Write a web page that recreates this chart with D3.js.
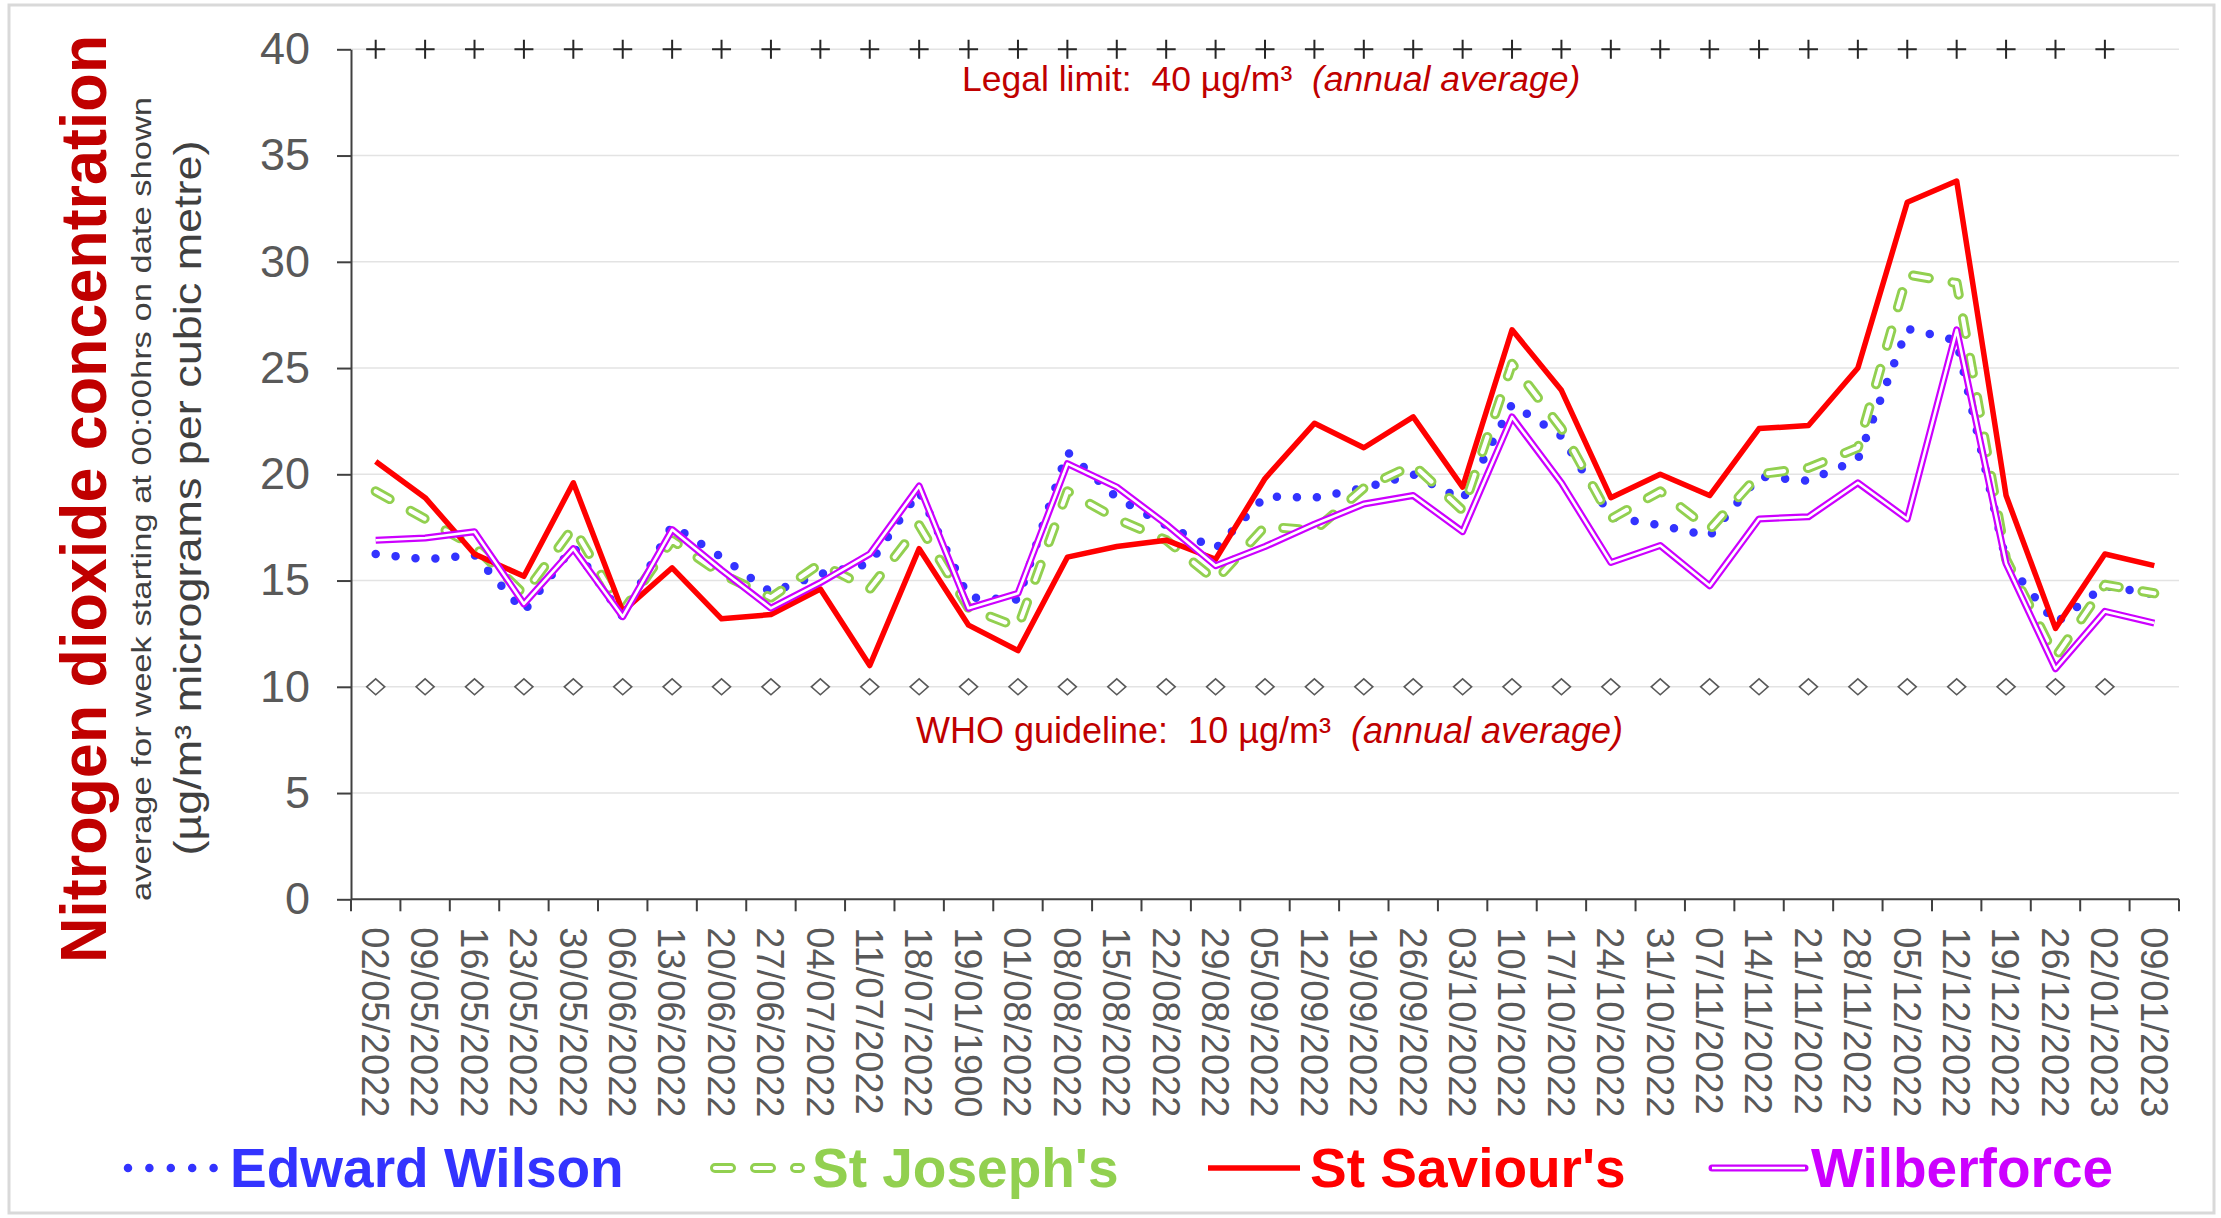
<!DOCTYPE html>
<html><head><meta charset="utf-8">
<script src="https://cdn.jsdelivr.net/npm/d3@7"></script>
<style>
body{margin:0;background:#fff;}
svg text{font-family: Arial, "Liberation Sans", sans-serif;}
</style>
</head><body>
<svg id="c" width="2221" height="1218"></svg>
<script>
// ---- DATA ----
const dates = ["02/05/2022","09/05/2022","16/05/2022","23/05/2022","30/05/2022","06/06/2022","13/06/2022","20/06/2022","27/06/2022","04/07/2022","11/07/2022","18/07/2022","19/01/1900","01/08/2022","08/08/2022","15/08/2022","22/08/2022","29/08/2022","05/09/2022","12/09/2022","19/09/2022","26/09/2022","03/10/2022","10/10/2022","17/10/2022","24/10/2022","31/10/2022","07/11/2022","14/11/2022","21/11/2022","28/11/2022","05/12/2022","12/12/2022","19/12/2022","26/12/2022","02/01/2023","09/01/2023"];

const edwardWilson = [16.25,16.0,16.2,13.55,16.6,13.3,17.6,16.1,14.45,15.3,15.8,19.2,14.2,14.1,21.05,18.9,17.6,16.5,18.95,18.9,19.35,20.0,18.8,23.3,21.8,18.0,17.6,17.1,19.9,19.7,20.7,26.85,26.3,15.9,13.0,14.75,14.35];
const stJosephs    = [19.2,17.9,16.6,14.35,17.5,13.55,16.9,15.3,14.2,15.8,14.6,17.6,13.7,12.8,19.2,17.9,16.9,15.0,17.55,17.35,19.35,20.45,18.3,25.2,22.15,17.9,19.2,17.4,20.0,20.3,21.25,29.4,29.0,16.0,11.4,14.8,14.4];
const stSaviours   = [20.6,18.9,16.25,15.2,19.6,13.55,15.6,13.2,13.4,14.6,11.0,16.5,12.9,11.7,16.1,16.6,16.9,16.0,19.8,22.4,21.25,22.7,19.4,26.8,23.95,18.9,20.0,19.0,22.15,22.3,25.0,32.8,33.8,19.0,12.75,16.25,15.7];
const wilberforce  = [16.9,17.0,17.3,13.9,16.5,13.3,17.4,15.5,13.7,14.9,16.25,19.45,13.7,14.4,20.5,19.4,17.65,15.7,16.6,17.65,18.6,19.0,17.3,22.7,19.6,15.85,16.65,14.75,17.9,18.0,19.6,17.9,26.8,15.8,10.85,13.55,13.0];

const seriesNames = ["Edward Wilson","St Joseph's","St Saviour's","Wilberforce"];
const yTicks = [0,5,10,15,20,25,30,35,40];
const legalLimit = 40;
const whoGuideline = 10;
const referenceDates = dates.slice(0, 36);   // reference markers run to 02/01/2023

// ---- CHART ----
const svg = d3.select("#c");
svg.append("rect").attr("x",9).attr("y",5).attr("width",2205).attr("height",1208)
  .attr("fill","#fff").attr("stroke","#d9d9d9").attr("stroke-width",3);

const x = d3.scaleBand().domain(dates).range([351,2179]).padding(0);
const y = d3.scaleLinear().domain([0,40]).range([899.3,49.3]);
const cx = d => x(d) + x.bandwidth()/2;

// gridlines
svg.append("g").selectAll("line").data(yTicks.filter(t=>t>0)).join("line")
  .attr("x1",x.range()[0]).attr("x2",x.range()[1])
  .attr("y1",d=>y(d)).attr("y2",d=>y(d))
  .attr("stroke","#e3e3e3").attr("stroke-width",1.5);

// y axis
const gy = svg.append("g").attr("transform",`translate(${x.range()[0]},0)`)
  .call(d3.axisLeft(y).tickValues(yTicks).tickSize(14).tickPadding(27).tickSizeOuter(0));
gy.select(".domain").attr("stroke","#404040").attr("stroke-width",2);
gy.selectAll(".tick line").attr("stroke","#404040").attr("stroke-width",2);
gy.selectAll(".tick text").attr("font-size",45).attr("fill","#595959")
  .attr("font-family","Arial, 'Liberation Sans', sans-serif");

// x axis line + boundary ticks
const xBounds = dates.map(d=>x(d)).concat([x.range()[1]]);
svg.append("line").attr("x1",x.range()[0]).attr("x2",x.range()[1])
  .attr("y1",y(0)).attr("y2",y(0)).attr("stroke","#404040").attr("stroke-width",2);
svg.append("g").selectAll("line").data(xBounds).join("line")
  .attr("x1",d=>d).attr("x2",d=>d).attr("y1",y(0)).attr("y2",y(0)+12)
  .attr("stroke","#404040").attr("stroke-width",2);
svg.append("g").selectAll("text").data(dates).join("text")
  .attr("transform",d=>`translate(${cx(d)},${y(0)+28}) rotate(90)`)
  .attr("dy","0.36em").attr("font-size",38).attr("fill","#595959")
  .text(d=>d);

// reference markers
svg.append("g").selectAll("path").data(referenceDates).join("path")
  .attr("transform",d=>`translate(${cx(d)},${y(legalLimit)})`)
  .attr("d","M-9.5,0H9.5M0,-9.5V9.5").attr("stroke","#262626").attr("stroke-width",2).attr("fill","none");
svg.append("g").selectAll("path").data(referenceDates).join("path")
  .attr("transform",d=>`translate(${cx(d)},${y(whoGuideline)})`)
  .attr("d","M0,-8L9,0L0,8L-9,0Z").attr("stroke","#595959").attr("stroke-width",1.6).attr("fill","#fff");

// series lines
const line = d3.line().x((v,i)=>cx(dates[i])).y(v=>y(v));
const gl = svg.append("g").attr("fill","none").attr("stroke-linejoin","round");
gl.append("path").attr("d",line(edwardWilson)).attr("stroke","#3333ff").attr("stroke-width",8.5)
  .attr("stroke-linecap","round").attr("stroke-dasharray","0 20");
gl.append("path").attr("d",line(stJosephs)).attr("stroke","#92d050").attr("stroke-width",10)
  .attr("stroke-linecap","round").attr("stroke-dasharray","16 24");
gl.append("path").attr("d",line(stJosephs)).attr("stroke","#fff").attr("stroke-width",4.2)
  .attr("stroke-linecap","round").attr("stroke-dasharray","16 24");
gl.append("path").attr("d",line(stSaviours)).attr("stroke","#ff0000").attr("stroke-width",5.5);
gl.append("path").attr("d",line(wilberforce)).attr("stroke","#cc00ff").attr("stroke-width",7);
gl.append("path").attr("d",line(wilberforce)).attr("stroke","#fff").attr("stroke-width",2.6);

// annotations
const legal = svg.append("text").attr("x",962).attr("y",90.5).attr("font-size",35.5)
  .attr("fill","#c00000").attr("xml:space","preserve").style("white-space","pre");
legal.append("tspan").text("Legal limit:  40 µg/m³  ");
legal.append("tspan").attr("font-style","italic").text("(annual average)");
const who = svg.append("text").attr("x",916).attr("y",743).attr("font-size",36)
  .attr("fill","#c00000").attr("xml:space","preserve").style("white-space","pre");
who.append("tspan").text("WHO guideline:  10 µg/m³  ");
who.append("tspan").attr("font-style","italic").text("(annual average)");

// axis titles
svg.append("text").attr("transform","translate(106,499) rotate(-90)")
  .attr("text-anchor","middle").attr("font-size",64).attr("font-weight","bold").attr("fill","#c00000")
  .attr("textLength",928).attr("lengthAdjust","spacingAndGlyphs")
  .text("Nitrogen dioxide concentration");
svg.append("text").attr("transform","translate(151,499) rotate(-90)")
  .attr("text-anchor","middle").attr("font-size",28).attr("fill","#404040")
  .attr("textLength",804).attr("lengthAdjust","spacingAndGlyphs")
  .text("average for week starting at 00:00hrs on date shown");
svg.append("text").attr("transform","translate(201,498) rotate(-90)")
  .attr("text-anchor","middle").attr("font-size",38).attr("fill","#404040")
  .attr("textLength",715).attr("lengthAdjust","spacingAndGlyphs")
  .text("(µg/m³ micrograms per cubic metre)");

// legend
const legendY = 1168;
const lg = svg.append("g").attr("fill","none");
lg.append("line").attr("x1",128).attr("x2",215).attr("y1",legendY).attr("y2",legendY)
  .attr("stroke","#3333ff").attr("stroke-width",8.5).attr("stroke-linecap","round").attr("stroke-dasharray","0 21.4");
lg.append("line").attr("x1",715).attr("x2",800).attr("y1",legendY).attr("y2",legendY)
  .attr("stroke","#92d050").attr("stroke-width",10).attr("stroke-linecap","round").attr("stroke-dasharray","16 24");
lg.append("line").attr("x1",715).attr("x2",800).attr("y1",legendY).attr("y2",legendY)
  .attr("stroke","#fff").attr("stroke-width",4.2).attr("stroke-linecap","round").attr("stroke-dasharray","16 24");
lg.append("line").attr("x1",1208).attr("x2",1300).attr("y1",legendY).attr("y2",legendY)
  .attr("stroke","#ff0000").attr("stroke-width",5.5);
lg.append("line").attr("x1",1712).attr("x2",1805).attr("y1",legendY).attr("y2",legendY)
  .attr("stroke","#cc00ff").attr("stroke-width",7).attr("stroke-linecap","round");
lg.append("line").attr("x1",1712).attr("x2",1805).attr("y1",legendY).attr("y2",legendY)
  .attr("stroke","#fff").attr("stroke-width",2.6);

const legendX = [230, 812, 1310, 1811];
const legendColors = ["#3333ff","#92d050","#ff0000","#cc00ff"];
svg.append("g").selectAll("text").data(seriesNames).join("text")
  .attr("x",(d,i)=>legendX[i]).attr("y",1186.5)
  .attr("font-size",55).attr("font-weight","bold")
  .attr("fill",(d,i)=>legendColors[i]).text(d=>d);
</script>
</body></html>
